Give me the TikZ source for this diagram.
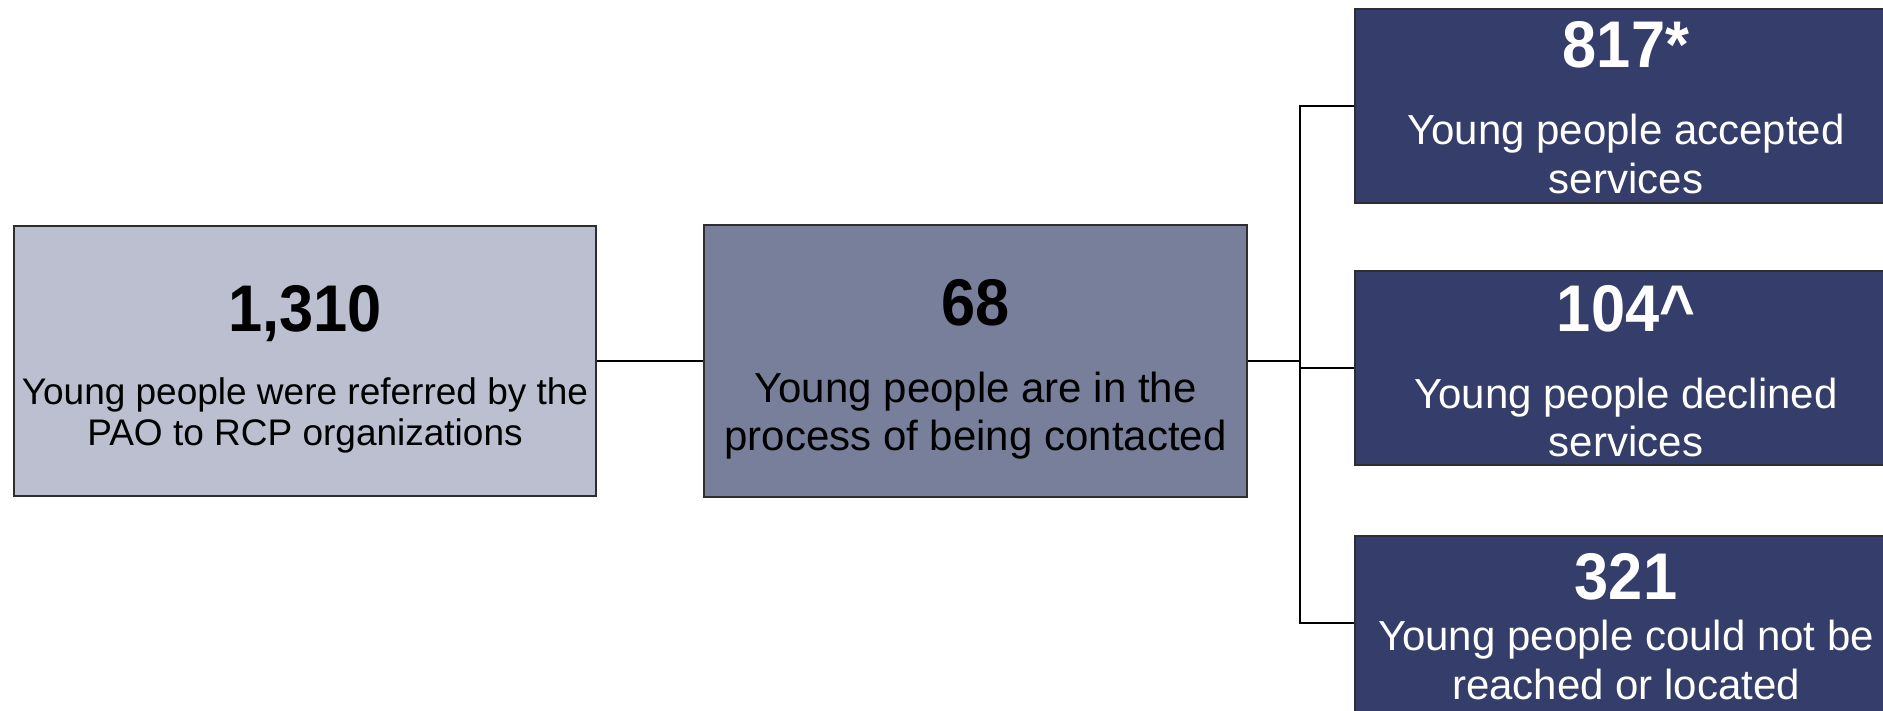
\documentclass[tikz,border=0pt]{standalone}
\usepackage{fontspec}
\setmainfont{Liberation Sans}
\usepackage{tikz}
\usetikzlibrary{positioning}
\definecolor{paleblue}{RGB}{187,191,207}
\definecolor{midblue}{RGB}{119,127,154}
\definecolor{navy}{RGB}{53,61,106}
\definecolor{edgegray}{RGB}{45,45,50}
\newcommand{\bignum}[1]{\scalebox{0.93}[1]{\fontsize{66}{66}\selectfont\bfseries #1}}

\begin{document}
\begin{tikzpicture}[x=1pt,y=-1pt,
	countbox/.style={rectangle, draw=edgegray, line width=1.2pt, inner sep=0pt},
	lightbox/.style={countbox, fill=paleblue, minimum width=582pt, minimum height=270pt},
	midbox/.style={countbox, fill=midblue, minimum width=543pt, minimum height=272pt},
	darkbox/.style={countbox, fill=navy, minimum width=542pt, minimum height=194pt},
	countlabel/.style={align=center, inner sep=0pt},
	link/.style={line width=2.2pt, black}]
		\useasboundingbox (0,0) rectangle (1883,710);
		% boxes
		\node[lightbox] (referred) at (305,361) {};
		\node[midbox] (contact) at (975.5,361) {};
		\node[darkbox] (accepted) at (1626,106) {};
		\node[darkbox] (declined) at (1626,368) {};
		\node[darkbox] (unreached) at (1626,633) {};
		% texts
		\node[countlabel, font=\fontsize{37}{41}\selectfont] (referredtext) at ([yshift=-8pt]referred.center)
			{\bignum{1,310}\\[32pt]Young people were referred by the\\PAO to RCP organizations};
		\node[countlabel, font=\fontsize{42}{48}\selectfont] (contacttext) at ([yshift=-8pt]contact.center)
			{\bignum{68}\\[29pt]Young people are in the\\process of being contacted};
		\node[countlabel, text=white, font=\fontsize{42}{49}\selectfont] (acceptedtext) at ([yshift=-2pt]accepted.center)
			{\bignum{817*}\\[28pt]Young people accepted\\services};
		\node[countlabel, text=white, font=\fontsize{42}{48}\selectfont] (declinedtext) at ([yshift=-3pt]declined.center)
			{\bignum{104\^{}}\\[29pt]Young people declined\\services};
		\node[countlabel, text=white, font=\fontsize{42}{49}\selectfont] (unreachedtext) at ([yshift=6pt]unreached.center)
			{\bignum{321}\\[2pt]Young people could not be\\reached or located};
		% forks
		\coordinate (split) at (1300,361);
		\coordinate (toUnreached) at ([yshift=10pt]unreached.west);
		\draw[link] (referred.east) -- (contact.west);
		\draw[link] (contact.east) -- (split);
		\draw[link] (accepted.west) -| (split |- toUnreached) -- (toUnreached);
		\draw[link] (split |- declined.west) -- (declined.west);
\end{tikzpicture}
\end{document}
